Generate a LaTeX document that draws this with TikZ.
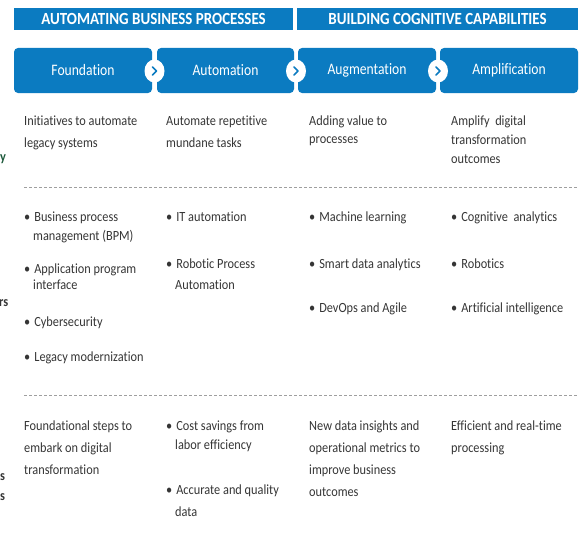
\documentclass[tikz,border=0pt]{standalone}
\usepackage{fontspec}
\setmainfont{Carlito}[FakeStretch=0.88, Ligatures=NoCommon]
\newfontfamily\headfont{Carlito}[FakeStretch=0.88, Ligatures=NoCommon]
\newfontfamily\phasefont{Carlito}[FakeStretch=0.85, Ligatures=NoCommon]
\usetikzlibrary{shapes.geometric}
\definecolor{brandblue}{HTML}{0B7BC1}
\definecolor{bodytext}{HTML}{353535}
\definecolor{sidegreen}{HTML}{1E5A3C}
\newcommand{\bul}{\textbullet\hspace{4pt}}
\newcommand{\hang}{\hspace*{9pt}}
\begin{document}
\begin{tikzpicture}[x=1pt,y=-1pt,
  banner/.style={fill=brandblue, text=white, inner sep=0, minimum height=22pt,
    font=\headfont\bfseries\fontsize{17}{17}\selectfont},
  phase/.style={fill=brandblue, rounded corners=4pt, text=white, inner sep=0,
    minimum height=45pt, font=\phasefont\fontsize{16}{16}\selectfont},
  joint/.style={ellipse, fill=white, minimum width=20pt, minimum height=23pt, inner sep=0},
  chev/.style={draw=brandblue, line width=1.5pt, line cap=round, line join=round},
  % anchored at the baseline of the last line of the cell
  cell/.style={anchor=base west, align=left, inner sep=0, text=bodytext,
    font=\fontsize{14}{#1}\selectfont},
  cell/.default=22,
  side/.style={anchor=base west, inner sep=0, text=bodytext, font=\bfseries\fontsize{14}{14}\selectfont},
  divider/.style={draw=gray!75, dash pattern=on 3pt off 2pt, line width=0.6pt},
]
\useasboundingbox (0,0) rectangle (580,535);

% top banners
\node[banner, minimum width=279pt] (ban1) at (153.5,19) {AUTOMATING BUSINESS PROCESSES};
\node[banner, minimum width=281pt] (ban2) at (437.5,19) {BUILDING COGNITIVE CAPABILITIES};

% phase boxes
\node[phase, minimum width=138pt] (p1) at (83,70.5) {Foundation};
\node[phase, minimum width=137pt] (p2) at (225.5,70.5) {Automation};
\node[phase, minimum width=138pt] (p3) at (367,70.5) {Augmentation};
\node[phase, minimum width=138pt] (p4) at (509,70.5) {Amplification};

% chevron joints between phases
\foreach \n/\x in {j1/154.5, j2/296, j3/438}{
  \node[joint] (\n) at (\x,71) {};
  \draw[chev] ([shift={(-2,-4)}]\n.center) -- ([shift={(2,0)}]\n.center) -- ([shift={(-2,4)}]\n.center);
}

% clipped row labels at the left edge
\node[side, text=sidegreen] (s1) at (0,161) {y};
\node[side] (s2) at (-1,306) {rs};
\node[side] (s3) at (0,480) {s};
\node[side] (s4) at (0,500) {s};

% row 1
\node[cell] (a1) at (24,147) {Initiatives to automate\\legacy systems};
\node[cell] (a2) at (166,147) {Automate repetitive\\mundane tasks};
\node[cell=18] (a3) at (309,143) {Adding value to\\processes};
\node[cell=19] (a4) at (451,163) {Amplify~ digital\\transformation\\outcomes};

% dividers
\coordinate (d1s) at (24,187);
\coordinate (d1e) at (578,187);
\coordinate (d2s) at (24,395);
\coordinate (d2e) at (578,395);
\draw[divider] (d1s) -- (d1e);
\draw[divider] (d2s) -- (d2e);

% row 2
\node[cell=19] (b11) at (24,240) {\bul Business process\\\hang management (BPM)};
\node[cell=16] (b12) at (24,289) {\bul Application program\\\hang interface};
\node[cell] (b13) at (24,326) {\bul Cybersecurity};
\node[cell] (b14) at (24,361) {\bul Legacy modernization};
\node[cell] (b21) at (166,221) {\bul IT automation};
\node[cell=21] (b22) at (166,289) {\bul Robotic Process\\\hang Automation};
\node[cell] (b31) at (309,221) {\bul Machine learning};
\node[cell] (b32) at (309,268) {\bul Smart data analytics};
\node[cell] (b33) at (309,312) {\bul DevOps and Agile};
\node[cell] (b41) at (451,221) {\bul Cognitive~ analytics};
\node[cell] (b42) at (451,268) {\bul Robotics};
\node[cell] (b43) at (451,312) {\bul Artificial intelligence};

% row 3
\node[cell] (c1) at (24,474) {Foundational steps to\\embark on digital\\transformation};
\node[cell=19] (c21) at (166,449) {\bul Cost savings from\\\hang labor efficiency};
\node[cell] (c22) at (166,516) {\bul Accurate and quality\\\hang data};
\node[cell] (c3) at (309,496) {New data insights and\\operational metrics to\\improve business\\outcomes};
\node[cell] (c4) at (451,452) {Efficient and real-time\\processing};
\end{tikzpicture}
\end{document}
